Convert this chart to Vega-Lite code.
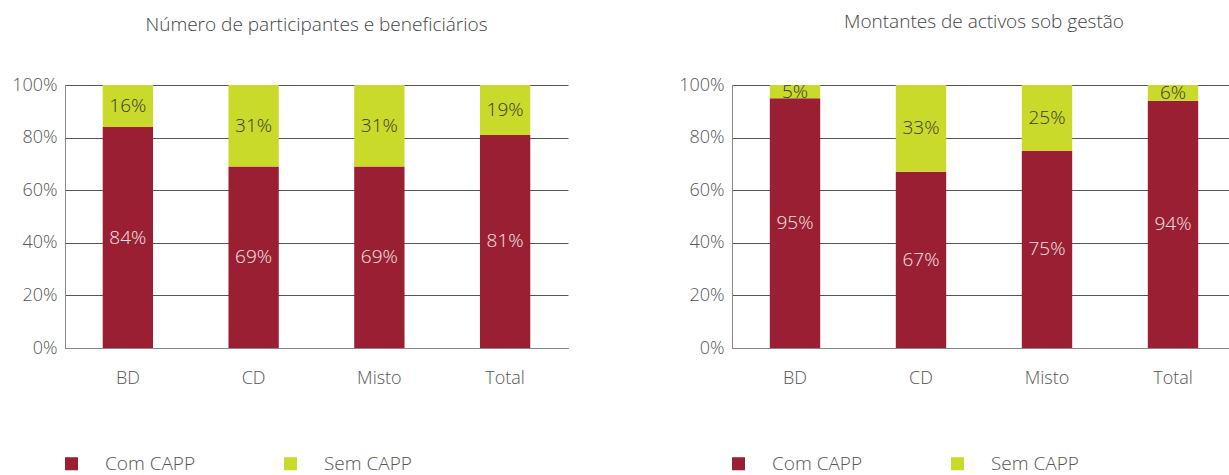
{
  "$schema": "https://vega.github.io/schema/vega-lite/v6.json",
  "padding": {"left": 11, "top": 13, "right": 0, "bottom": 0},
  "config": {
    "font": "Open Sans",
    "view": {"stroke": null},
    "axis": {"labelFont": "Open Sans", "labelFontWeight": 300, "labelFontSize": 18, "labelColor": "#555555", "ticks": false, "title": null},
    "legend": {"labelFont": "Open Sans", "labelFontWeight": 300}
  },
  "data": {"values": [
    {"panel": "A", "cat": "BD", "group": "Com CAPP", "value": 0.84},
    {"panel": "A", "cat": "BD", "group": "Sem CAPP", "value": 0.16},
    {"panel": "A", "cat": "CD", "group": "Com CAPP", "value": 0.69},
    {"panel": "A", "cat": "CD", "group": "Sem CAPP", "value": 0.31},
    {"panel": "A", "cat": "Misto", "group": "Com CAPP", "value": 0.69},
    {"panel": "A", "cat": "Misto", "group": "Sem CAPP", "value": 0.31},
    {"panel": "A", "cat": "Total", "group": "Com CAPP", "value": 0.81},
    {"panel": "A", "cat": "Total", "group": "Sem CAPP", "value": 0.19},
    {"panel": "B", "cat": "BD", "group": "Com CAPP", "value": 0.95},
    {"panel": "B", "cat": "BD", "group": "Sem CAPP", "value": 0.05},
    {"panel": "B", "cat": "CD", "group": "Com CAPP", "value": 0.67},
    {"panel": "B", "cat": "CD", "group": "Sem CAPP", "value": 0.33},
    {"panel": "B", "cat": "Misto", "group": "Com CAPP", "value": 0.75},
    {"panel": "B", "cat": "Misto", "group": "Sem CAPP", "value": 0.25},
    {"panel": "B", "cat": "Total", "group": "Com CAPP", "value": 0.94},
    {"panel": "B", "cat": "Total", "group": "Sem CAPP", "value": 0.06}
  ]},
  "spacing": 110,
  "resolve": {"scale": {"color": "independent"}, "legend": {"color": "independent"}},
  "hconcat": [
    {
      "title": {"text": "Número de participantes e beneficiários", "fontSize": 19, "fontWeight": 300, "color": "#444444", "offset": 41},
      "width": 503,
      "height": 263,
      "transform": [{"filter": "datum.panel === 'A'"}],
      "encoding": {
        "x": {"field": "cat", "type": "nominal", "sort": ["BD", "CD", "Misto", "Total"], "scale": {"paddingInner": 0.6, "paddingOuter": 0.3}, "axis": {"labelAngle": 0, "labelPadding": 21, "domainColor": "#888888", "domainWidth": 1}},
        "y": {"field": "value", "type": "quantitative", "stack": "zero", "scale": {"domain": [0, 1]}, "axis": {"format": ".0%", "values": [0, 0.2, 0.4, 0.6, 0.8, 1], "labelPadding": 8, "gridColor": "#555555", "gridWidth": 1, "domainColor": "#888888"}},
        "order": {"field": "group", "sort": "ascending"}
      },
      "layer": [
        {
          "mark": {"type": "bar"},
          "encoding": {
            "color": {"field": "group", "type": "nominal", "scale": {"domain": ["Com CAPP", "Sem CAPP"], "range": ["#9b1f32", "#c9da2a"]},
              "legend": {"title": null, "orient": "none", "legendX": -3, "legendY": 369, "direction": "horizontal", "symbolType": "square", "symbolSize": 170, "symbolStrokeWidth": 0, "symbolOpacity": 1, "labelFontSize": 19, "labelBaseline": "middle", "labelColor": "#555555", "labelOffset": 24, "columnPadding": 85, "labelLimit": 300}}
          }
        },
        {
          "mark": {"type": "text", "fontSize": 19, "fontWeight": 300, "baseline": "middle"},
          "encoding": {
            "y": {"field": "value", "type": "quantitative", "stack": "zero", "bandPosition": 0.5},
            "detail": {"field": "group"},
            "text": {"field": "value", "format": ".0%"},
            "color": {"condition": {"test": "datum.group === 'Com CAPP'", "value": "#f2e4e6"}, "value": "#3a3a2a"}
          }
        }
      ]
    },
    {
      "title": {"text": "Montantes de activos sob gestão", "fontSize": 19, "fontWeight": 300, "color": "#444444", "offset": 44},
      "width": 504,
      "height": 263,
      "transform": [{"filter": "datum.panel === 'B'"}],
      "encoding": {
        "x": {"field": "cat", "type": "nominal", "sort": ["BD", "CD", "Misto", "Total"], "scale": {"paddingInner": 0.6, "paddingOuter": 0.3}, "axis": {"labelAngle": 0, "labelPadding": 21, "domainColor": "#888888", "domainWidth": 1}},
        "y": {"field": "value", "type": "quantitative", "stack": "zero", "scale": {"domain": [0, 1]}, "axis": {"format": ".0%", "values": [0, 0.2, 0.4, 0.6, 0.8, 1], "labelPadding": 8, "gridColor": "#555555", "gridWidth": 1, "domainColor": "#888888"}},
        "order": {"field": "group", "sort": "ascending"}
      },
      "layer": [
        {
          "mark": {"type": "bar"},
          "encoding": {
            "color": {"field": "group", "type": "nominal", "scale": {"domain": ["Com CAPP", "Sem CAPP"], "range": ["#9b1f32", "#c9da2a"]},
              "legend": {"title": null, "orient": "none", "legendX": -3, "legendY": 369, "direction": "horizontal", "symbolType": "square", "symbolSize": 170, "symbolStrokeWidth": 0, "symbolOpacity": 1, "labelFontSize": 19, "labelBaseline": "middle", "labelColor": "#555555", "labelOffset": 24, "columnPadding": 85, "labelLimit": 300}}
          }
        },
        {
          "mark": {"type": "text", "fontSize": 19, "fontWeight": 300, "baseline": "middle"},
          "encoding": {
            "y": {"field": "value", "type": "quantitative", "stack": "zero", "bandPosition": 0.5},
            "detail": {"field": "group"},
            "text": {"field": "value", "format": ".0%"},
            "color": {"condition": {"test": "datum.group === 'Com CAPP'", "value": "#f2e4e6"}, "value": "#3a3a2a"}
          }
        }
      ]
    }
  ]
}
